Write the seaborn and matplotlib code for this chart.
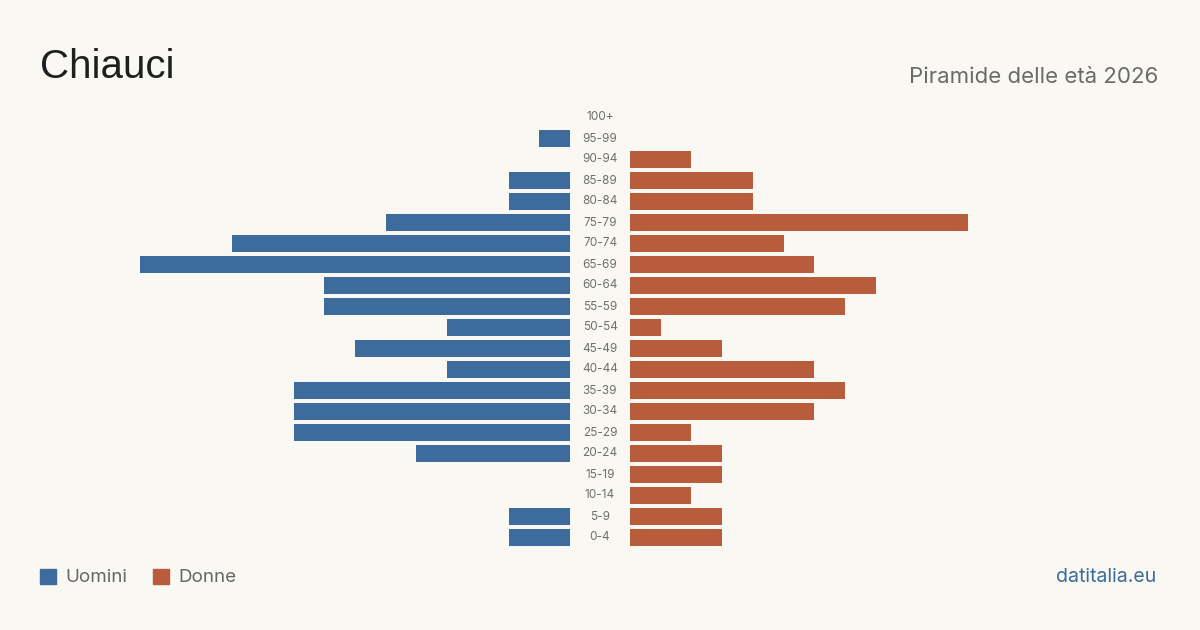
import matplotlib
matplotlib.use("Agg")
import matplotlib.pyplot as plt
import matplotlib.patches as mpatches
import matplotlib.transforms as mtransforms
import pandas as pd
import seaborn as sns

# Piramide delle età - Chiauci 2026
fasce = ["100+", "95-99", "90-94", "85-89", "80-84", "75-79", "70-74", "65-69",
         "60-64", "55-59", "50-54", "45-49", "40-44", "35-39", "30-34", "25-29",
         "20-24", "15-19", "10-14", "5-9", "0-4"]
uomini = [0, 1, 0, 2, 2, 6, 11, 14, 8, 8, 4, 7, 4, 9, 9, 9, 5, 0, 0, 2, 2]
donne = [0, 0, 2, 4, 4, 11, 5, 6, 8, 7, 1, 3, 6, 7, 6, 2, 3, 3, 2, 3, 3]

blu = "#3d6b9b"
rosso = "#b95c3b"
sfondo = "#f9f8f3"

df = pd.DataFrame({"fascia": fasce, "uomini": uomini, "donne": donne})

sns.set_style("white")
plt.rcParams["font.family"] = ["Inter", "DejaVu Sans"]

fig = plt.figure(figsize=(12, 6.3), dpi=100, facecolor=sfondo)

xmax = 14
ax_l = fig.add_axes([140 / 1200, 82 / 630, 430 / 1200, 441 / 630])
ax_r = fig.add_axes([630 / 1200, 82 / 630, 430 / 1200, 441 / 630])

sns.barplot(data=df, y="fascia", x="uomini", order=fasce, orient="h",
            color=blu, saturation=1, width=0.81, linewidth=0, ax=ax_l)
sns.barplot(data=df, y="fascia", x="donne", order=fasce, orient="h",
            color=rosso, saturation=1, width=0.81, linewidth=0, ax=ax_r)

ax_l.set_xlim(xmax, 0)
ax_r.set_xlim(0, xmax)

for ax in (ax_l, ax_r):
    ax.set_facecolor("none")
    ax.set_ylim(len(fasce) - 0.5, -0.5)
    ax.set_xlabel("")
    ax.set_ylabel("")
    ax.set_xticks([])
    ax.set_yticks([])
    sns.despine(ax=ax, left=True, bottom=True)

# etichette delle fasce al centro
trans = mtransforms.blended_transform_factory(ax_l.transAxes, ax_l.transData)
for i, f in enumerate(fasce):
    ax_l.text(1 + 30 / 430, i, f, transform=trans, ha="center", va="center",
              fontsize=8.5, color="#6f6f6f", clip_on=False)

fig.text(40 / 1200, 1 - 67 / 630, "Chiauci", fontsize=29, color="#1f1f1f",
         family=["Liberation Sans", "DejaVu Sans"], ha="left", va="center")
fig.text(1158 / 1200, 1 - 77 / 630, "Piramide delle età 2026", fontsize=16,
         color="#6a6a6a", ha="right", va="center")

# legenda
fig.add_artist(mpatches.Rectangle((40 / 1200, 1 - 584 / 630), 16 / 1200, 15 / 630,
                                  transform=fig.transFigure, color=blu))
fig.text(65 / 1200, 1 - 577 / 630, "Uomini", fontsize=13.5, color="#666666",
         ha="left", va="center")
fig.add_artist(mpatches.Rectangle((153 / 1200, 1 - 584 / 630), 16 / 1200, 15 / 630,
                                  transform=fig.transFigure, color=rosso))
fig.text(178 / 1200, 1 - 577 / 630, "Donne", fontsize=13.5, color="#666666",
         ha="left", va="center")

fig.text(1156 / 1200, 1 - 577 / 630, "datitalia.eu", fontsize=14, color=blu,
         ha="right", va="center")

fig.savefig("out.png", dpi=100, facecolor=sfondo)
